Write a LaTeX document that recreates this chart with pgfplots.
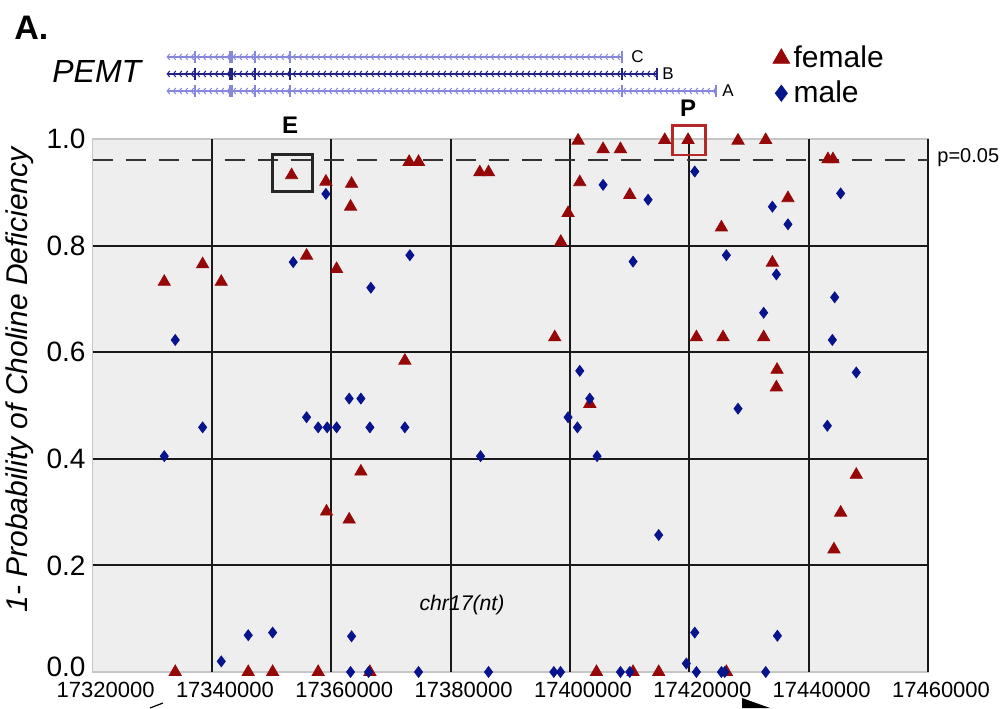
\documentclass[border=0pt]{standalone}
\usepackage{fontspec}
\setmainfont{Liberation Sans}
\usepackage{pgfplots}
\pgfplotsset{compat=1.18}
\usetikzlibrary{decorations.markings}

\definecolor{fem}{RGB}{150,8,8}
\definecolor{mal}{RGB}{8,20,140}
\definecolor{bg}{RGB}{238,238,238}
\definecolor{genelight}{RGB}{135,135,220}
\definecolor{genedark}{RGB}{35,35,135}
\definecolor{boxred}{RGB}{180,40,40}

\tikzset{chev/.style={postaction={decorate,decoration={markings,
  mark=between positions 0 and 1 step 3pt with {\draw[line width=0.5pt] (0.9pt,1.5pt) -- (-0.4pt,0pt) -- (0.9pt,-1.5pt);}}}}}

\begin{document}
\begin{tikzpicture}
\useasboundingbox (0,0) rectangle (502.5pt,354pt);
\begin{axis}[
  at={(46.3pt,18pt)}, anchor=south west,
  scale only axis, width=417.7pt, height=266.5pt,
  xmin=17320000, xmax=17460000, ymin=0, ymax=1,
  clip=false,
  axis background/.style={fill=bg},
  axis line style={draw=gray!45, line width=0.6pt},
  /pgf/number format/assume math mode=true,
  scaled x ticks=false,
  xtick={17320000,17340000,17360000,17380000,17400000,17420000,17440000,17460000},
  xticklabels={17320000,17340000,17360000,17380000,17400000,17420000,17440000,17460000},
  ytick={0,0.2,0.4,0.6,0.8,1.0},
  yticklabels={\raisebox{5pt}{0.0},0.2,0.4,0.6,0.8,1.0},
  tick style={draw=none},
  xticklabel style={font=\fontsize{11}{13}\selectfont, inner ysep=0pt, yshift=-4.7pt, xshift=6.5pt},
  yticklabel style={font=\fontsize{14}{16}\selectfont, inner ysep=0pt},
  extra x ticks={17340000,17360000,17380000,17400000,17420000,17440000,17460000},
  extra x tick labels={},
  extra y ticks={0.2,0.4,0.6,0.8},
  extra y tick labels={},
  extra tick style={grid=major, major grid style={draw=black!90, line width=1pt}, tick style={draw=none}},
  ylabel={\itshape 1- Probability of Choline Deficiency},
  ylabel style={at={(rel axis cs:-0.087,0.548)}, anchor=center, font=\fontsize{15}{18}\selectfont},
  legend style={at={(rel axis cs:0.814,1.1825)}, anchor=north west, draw=none, fill=none,
    font=\fontsize{15}{17}\selectfont, row sep=1pt, inner sep=0pt},
  legend cell align=left,
  legend image code/.code={\draw[mark repeat=2,mark phase=2,#1] plot coordinates {(0pt,0pt) (5pt,0pt) (10pt,0pt)};},
]
% p = 0.05 threshold
\addplot[draw=black!80, line width=1pt, dash pattern=on 10pt off 6.5pt, forget plot]
  coordinates {(17320000,0.96) (17460000,0.96)};

\addplot[only marks, mark=triangle*, mark size=3.5pt, color=fem,
  legend image post style={mark size=4.8pt}] coordinates {
(17332010,0.732) (17338440,0.765) (17341560,0.732) (17353350,0.932)
(17355860,0.781) (17359100,0.920) (17360890,0.756) (17363400,0.916)
(17363230,0.873) (17372330,0.584) (17373050,0.957) (17374620,0.957)
(17364960,0.376) (17359200,0.301) (17363000,0.286) (17333850,0)
(17346080,0) (17350170,0) (17357800,0) (17366470,0)
(17384890,0.9375) (17386350,0.9375) (17397450,0.628) (17398460,0.807)
(17399680,0.861) (17401360,0.997) (17401640,0.919) (17403320,0.503)
(17404440,0) (17405550,0.981) (17408460,0.981) (17410020,0.895)
(17410570,0) (17414870,0) (17415880,0.998) (17419790,0.998)
(17421190,0.628) (17425380,0.834) (17425650,0.628) (17426210,0)
(17428160,0.997) (17432460,0.628) (17432800,0.998) (17433920,0.768)
(17434590,0.534) (17434700,0.567) (17436530,0.889) (17443230,0.962)
(17444070,0.962) (17444240,0.230) (17445360,0.299) (17447980,0.370)
};
\addlegendentry{female}

\addplot[only marks, mark=diamond*, mark size=2.7pt, color=mal,
  legend image post style={mark size=4pt}] coordinates {
(17332010,0.405) (17333850,0.623) (17338440,0.459) (17341560,0.020)
(17346080,0.069) (17350170,0.074) (17353620,0.769) (17355860,0.478)
(17357800,0.459) (17359310,0.459) (17360890,0.459) (17359100,0.897)
(17363000,0.513) (17364960,0.513) (17363400,0.067) (17363230,0)
(17366250,0) (17366630,0.721) (17366470,0.459) (17372330,0.459)
(17373170,0.782) (17374620,0) (17385010,0.405) (17386350,0)
(17397290,0) (17398410,0) (17399680,0.478) (17401250,0.459)
(17401640,0.565) (17403320,0.513) (17404540,0.405) (17405550,0.914)
(17408460,0) (17410020,0) (17410570,0.770) (17413090,0.886)
(17414870,0.257) (17419500,0.016) (17420910,0.939) (17420910,0.074)
(17421190,0) (17425380,0) (17425930,0) (17426210,0.782)
(17428160,0.494) (17432460,0.674) (17432800,0) (17433920,0.873)
(17434590,0.746) (17434760,0.068) (17436530,0.840) (17443130,0.462)
(17443970,0.623) (17444360,0.703) (17445360,0.898) (17447980,0.562)
};
\addlegendentry{male}

% highlight boxes
\draw[black!85, line width=1.5pt] (axis cs:17350170,0.901) rectangle (axis cs:17356870,0.970);
\draw[boxred, line width=1.3pt] (axis cs:17417170,0.970) rectangle (axis cs:17422700,1.025);

% PEMT transcripts (genomic coordinates)
\draw[genelight, line width=0.8pt, chev] (axis cs:17332630,1.154) -- (axis cs:17408680,1.154);
\draw[genedark, line width=0.8pt, chev] (axis cs:17332630,1.122) -- (axis cs:17414540,1.122);
\draw[genelight, line width=0.8pt, chev] (axis cs:17332630,1.090) -- (axis cs:17424420,1.090);
\pgfplotsinvokeforeach{17337150,17343010,17343350,17347200,17353060,17408680}{
  \draw[genelight, line width=0.8pt] (axis cs:#1,1.142) -- (axis cs:#1,1.166);
  \draw[genedark, line width=1pt] (axis cs:#1,1.110) -- (axis cs:#1,1.134);
  \draw[genelight, line width=0.8pt] (axis cs:#1,1.078) -- (axis cs:#1,1.102);
}
\draw[genedark, line width=1pt] (axis cs:17414540,1.110) -- (axis cs:17414540,1.134);
\draw[genelight, line width=0.8pt] (axis cs:17424420,1.078) -- (axis cs:17424420,1.102);
\end{axis}

\begin{scope}[x=0.5pt, y=-0.5pt, shift={(0pt,354pt)}]
  \node[anchor=base west, inner sep=0pt, font=\bfseries\fontsize{17}{20}\selectfont] at (14,40) {A.};
  \node[anchor=base west, inner sep=0pt, font=\itshape\fontsize{16}{19}\selectfont] at (52,83) {PEMT};
  \node[anchor=west, inner sep=0pt, font=\fontsize{8.5}{10}\selectfont] at (631,57) {C};
  \node[anchor=west, inner sep=0pt, font=\fontsize{8.5}{10}\selectfont] at (662,74) {B};
  \node[anchor=west, inner sep=0pt, font=\fontsize{8.5}{10}\selectfont] at (722,91) {A};
  \node[inner sep=0pt, font=\bfseries\fontsize{12}{14}\selectfont] at (290,125) {E};
  \node[inner sep=0pt, font=\bfseries\fontsize{12}{14}\selectfont] at (688,108) {P};
  \node[anchor=west, inner sep=0pt, font=\fontsize{10}{12}\selectfont] at (937,158) {p=0.05};
  \node[inner sep=0pt, font=\itshape\fontsize{10.6}{12}\selectfont] at (462,605) {chr17(nt)};
  \draw[line width=0.6pt] (163,703) -- (150,708);
  \fill (742,698) -- (770,708) -- (742,708) -- cycle;
\end{scope}
\end{tikzpicture}
\end{document}
